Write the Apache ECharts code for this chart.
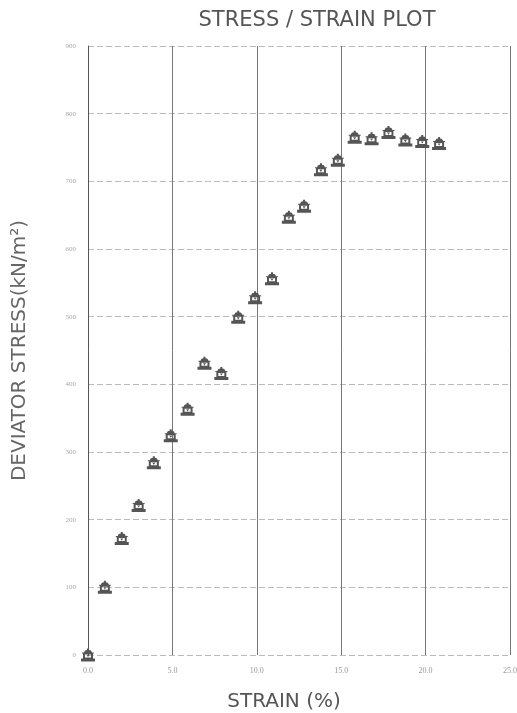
<!DOCTYPE html>
<html>
<head>
<meta charset="utf-8">
<script src="https://cdn.jsdelivr.net/npm/echarts@6/dist/echarts.min.js"></script>
<style>html,body{margin:0;padding:0;background:#fff;}#c{width:517px;height:713px;}</style>
</head>
<body>
<div id="c"></div>
<script>
const strain = [0, 1.0, 2.0, 3.0, 3.9, 4.9, 5.9, 6.9, 7.9, 8.9, 9.9, 10.9, 11.9, 12.8, 13.8, 14.8, 15.8, 16.8, 17.8, 18.8, 19.8, 20.8];
const stress = [0, 100, 172, 221, 284, 324, 363, 431, 416, 499, 528, 556, 647, 663, 717, 731, 765, 763, 772, 761, 759, 756];
const xTicks = ['0.0', '5.0', '10.0', '15.0', '20.0', '25.0'];
const yTicks = ['0', '100', '200', '300', '400', '500', '600', '700', '800', '900'];

const points = strain.map((s, i) => [s, stress[i]]);
const marker = 'path://M6,0 L8,0 L8,1.5 L10,2 L11,4 L13,4 L13,5 L12,5 L12,10 L14,10 L14,13 L0,13 L0,10 L2,10 L2,5 L1,5 L1,4 L3,4 L4,2 L6,1.5 Z M4,6 L4,9 L10,9 L10,6 Z M5.5,6.5 L8.5,6.5 L7,8.6 Z';

const chart = echarts.init(document.getElementById('c'));
chart.setOption({
  animation: false,
  backgroundColor: '#fff',
  title: {
    text: 'STRESS / STRAIN PLOT',
    left: 312, top: 5, textAlign: 'center',
    textStyle: { fontFamily: 'DejaVu Sans', fontSize: 21, fontWeight: 'normal', color: '#555' }
  },
  grid: { left: 88, right: 7, top: 46, bottom: 58, containLabel: false, outerBoundsMode: 'none' },
  xAxis: {
    type: 'value', min: 0, max: 25, interval: 5,
    name: 'STRAIN (%)', nameLocation: 'middle', nameGap: 37,
    nameTextStyle: { fontFamily: 'DejaVu Sans', fontSize: 20, color: '#555', padding: [0, 30, 0, 0] },
    axisLine: { show: false },
    axisTick: { show: false },
    axisLabel: { fontFamily: 'Liberation Serif', fontSize: 8, color: '#999', margin: 12,
      formatter: v => xTicks[Math.round(v / 5)] },
    splitLine: { show: true, lineStyle: { color: '#777', width: 1, type: 'solid' } }
  },
  yAxis: {
    type: 'value', min: 0, max: 900, interval: 100,
    name: 'DEVIATOR STRESS(kN/m²)', nameLocation: 'middle', nameGap: 58, nameRotate: 90,
    nameTextStyle: { fontFamily: 'DejaVu Sans', fontSize: 20, color: '#666' },
    axisLine: { show: true, lineStyle: { color: '#555', width: 1 } },
    axisTick: { show: false },
    axisLabel: { fontFamily: 'Liberation Serif', fontSize: 7, color: '#aaa', margin: 12,
      formatter: v => yTicks[Math.round(v / 100)] },
    splitLine: { show: true, lineStyle: { color: '#bbb', width: 1, type: [6, 3] } }
  },
  series: [{
    type: 'scatter',
    data: points,
    symbol: marker,
    symbolSize: [14, 13],
    itemStyle: { color: '#555', opacity: 1 },
    z: 5
  }]
});
</script>
</body>
</html>
